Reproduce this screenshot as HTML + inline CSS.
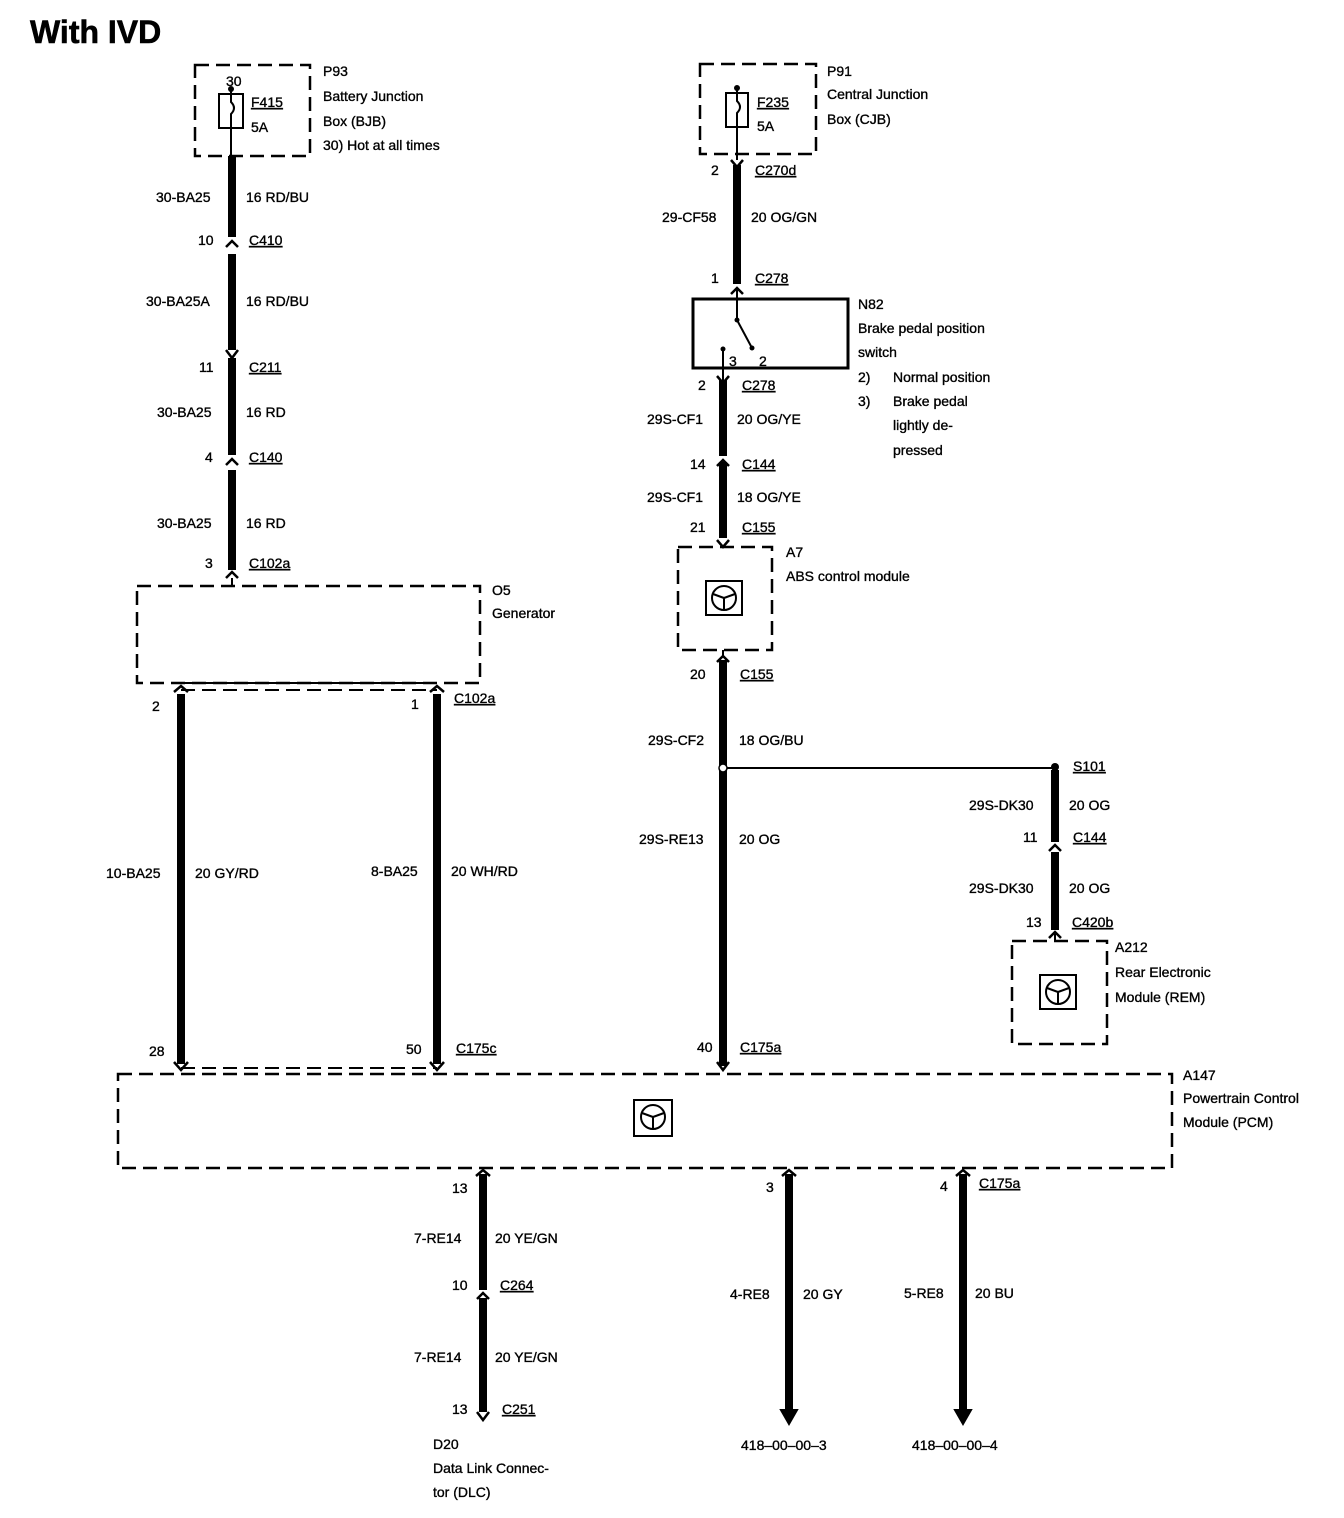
<!DOCTYPE html>
<html><head><meta charset="utf-8"><style>
html,body{margin:0;padding:0;background:#fff;}
svg{display:block;}
text{font-family:"Liberation Sans",sans-serif;font-size:14px;fill:#000;stroke:#000;stroke-width:0.35;}
.u{text-decoration:underline;}
.w{stroke:#000;stroke-width:8;fill:none;}
.t{stroke:#000;stroke-width:2;fill:none;}
.d{stroke:#000;stroke-width:2.5;fill:none;stroke-dasharray:14 7;}
.c{stroke:#000;stroke-width:2.5;fill:none;}
</style></head><body>
<svg width="1344" height="1518" viewBox="0 0 1344 1518" xmlns="http://www.w3.org/2000/svg">
<text x="30" y="43" style="font-size:32px;font-weight:bold;stroke-width:0.6">With IVD</text>

<!-- P93 -->
<rect x="195" y="65" width="115" height="91" class="d"/>
<rect x="219" y="94" width="24" height="34" class="t"/>
<path d="M231 88 V102 q6 6 0 12 V128" class="t"/>
<circle cx="231" cy="89" r="3"/>
<line x1="231" y1="128" x2="231" y2="156" class="t"/>
<text x="226" y="86">30</text>
<text x="251" y="107" class="u">F415</text>
<text x="251" y="132">5A</text>
<text x="323" y="76">P93</text>
<text x="323" y="101">Battery Junction</text>
<text x="323" y="126">Box (BJB)</text>
<text x="323" y="150">30)  Hot at all times</text>

<!-- left main wire -->
<line x1="232" y1="156" x2="232" y2="237" class="w"/>
<path d="M226 247 L232 241 L238 247" class="c"/>
<line x1="232" y1="254" x2="232" y2="350" class="w"/>
<path d="M226 350 L232 358 L238 350" class="c"/>
<line x1="232" y1="358" x2="232" y2="455" class="w"/>
<path d="M226 465 L232 459 L238 465" class="c"/>
<line x1="232" y1="470" x2="232" y2="570" class="w"/>
<path d="M226 578 L232 572 L238 578" class="c"/>
<line x1="232" y1="578" x2="232" y2="585" class="t"/>
<text x="156" y="202">30-BA25</text><text x="246" y="202">16 RD/BU</text>
<text x="198" y="245">10</text><text x="249" y="245" class="u">C410</text>
<text x="146" y="306">30-BA25A</text><text x="246" y="306">16 RD/BU</text>
<text x="199" y="372">11</text><text x="249" y="372" class="u">C211</text>
<text x="157" y="417">30-BA25</text><text x="246" y="417">16 RD</text>
<text x="205" y="462">4</text><text x="249" y="462" class="u">C140</text>
<text x="157" y="528">30-BA25</text><text x="246" y="528">16 RD</text>
<text x="205" y="568">3</text><text x="249" y="568" class="u">C102a</text>

<!-- Generator -->
<rect x="137" y="586" width="343" height="97" class="d"/>
<text x="492" y="595">O5</text>
<text x="492" y="618">Generator</text>
<line x1="181" y1="683" x2="437" y2="683" class="d" style="stroke-width:2"/>
<line x1="181" y1="690" x2="437" y2="690" class="d" style="stroke-width:2"/>
<path d="M174 692 L181 686 L188 692" class="c"/>
<path d="M430 692 L437 686 L444 692" class="c"/>
<line x1="181" y1="694" x2="181" y2="1064" class="w"/>
<line x1="437" y1="694" x2="437" y2="1064" class="w"/>
<path d="M174 1062 L181 1070 L188 1062" class="c"/>
<path d="M430 1062 L437 1070 L444 1062" class="c"/>
<line x1="181" y1="1068" x2="437" y2="1068" class="d" style="stroke-width:2"/>
<text x="152" y="711">2</text>
<text x="411" y="709">1</text><text x="454" y="703" class="u">C102a</text>
<text x="106" y="878">10-BA25</text><text x="195" y="878">20 GY/RD</text>
<text x="371" y="876">8-BA25</text><text x="451" y="876">20 WH/RD</text>
<text x="149" y="1056">28</text>
<text x="406" y="1054">50</text><text x="456" y="1053" class="u">C175c</text>

<!-- P91 -->
<rect x="700" y="64" width="116" height="90" class="d"/>
<rect x="726" y="93" width="22" height="34" class="t"/>
<path d="M737 88 V101 q6 6 0 12 V127" class="t"/>
<circle cx="737" cy="88" r="3"/>
<line x1="737" y1="127" x2="737" y2="160" class="t"/>
<text x="757" y="107" class="u">F235</text>
<text x="757" y="131">5A</text>
<text x="827" y="76">P91</text>
<text x="827" y="99">Central Junction</text>
<text x="827" y="124">Box (CJB)</text>
<path d="M731 160 L737 167 L743 160" class="c"/>
<line x1="737" y1="165" x2="737" y2="284" class="w"/>
<path d="M731 294 L737 288 L743 294" class="c"/>
<line x1="737" y1="290" x2="737" y2="320" class="t"/>
<text x="711" y="175">2</text><text x="755" y="175" class="u">C270d</text>
<text x="662" y="222">29-CF58</text><text x="751" y="222">20 OG/GN</text>
<text x="711" y="283">1</text><text x="755" y="283" class="u">C278</text>

<!-- N82 -->
<rect x="693" y="299" width="155" height="69" style="stroke:#000;stroke-width:3;fill:none"/>
<circle cx="737" cy="320" r="2.5"/>
<line x1="737" y1="320" x2="752" y2="348" class="t"/>
<circle cx="752" cy="348" r="2.5"/>
<circle cx="723" cy="349" r="2.5"/>
<line x1="723" y1="349" x2="723" y2="380" class="t"/>
<text x="729" y="366">3</text><text x="759" y="366">2</text>
<text x="858" y="309">N82</text>
<text x="858" y="333">Brake pedal position</text>
<text x="858" y="357">switch</text>
<text x="858" y="382">2)</text><text x="893" y="382">Normal position</text>
<text x="858" y="406">3)</text><text x="893" y="406">Brake pedal</text>
<text x="893" y="430">lightly de-</text>
<text x="893" y="455">pressed</text>
<path d="M717 376 L723 383 L729 376" class="c"/>
<line x1="723" y1="380" x2="723" y2="456" class="w"/>
<path d="M717 466 L723 460 L729 466" class="c"/>
<line x1="723" y1="462" x2="723" y2="538" class="w"/>
<path d="M717 540 L723 547 L729 540" class="c"/>
<text x="698" y="390">2</text><text x="742" y="390" class="u">C278</text>
<text x="647" y="424">29S-CF1</text><text x="737" y="424">20 OG/YE</text>
<text x="690" y="469">14</text><text x="742" y="469" class="u">C144</text>
<text x="647" y="502">29S-CF1</text><text x="737" y="502">18 OG/YE</text>
<text x="690" y="532">21</text><text x="742" y="532" class="u">C155</text>

<!-- A7 -->
<rect x="678" y="547" width="94" height="103" class="d"/>
<rect x="706" y="581" width="36" height="34" class="t"/>
<circle cx="724" cy="598" r="12" class="t"/>
<path d="M713 594 L724 598 L735 594 M724 598 V610" class="t"/>
<text x="786" y="557">A7</text>
<text x="786" y="581">ABS control module</text>
<path d="M717 662 L723 656 L729 662" class="c"/>
<line x1="723" y1="650" x2="723" y2="656" class="t"/>
<line x1="723" y1="660" x2="723" y2="1066" class="w"/>
<path d="M717 1062 L723 1070 L729 1062" class="c"/>
<text x="690" y="679">20</text><text x="740" y="679" class="u">C155</text>
<text x="648" y="745">29S-CF2</text><text x="739" y="745">18 OG/BU</text>
<line x1="723" y1="768" x2="1055" y2="768" class="t"/>
<circle cx="723" cy="768" r="4" fill="#fff" stroke="#000" stroke-width="1.5"/>
<circle cx="1055" cy="767" r="4"/>
<text x="639" y="844">29S-RE13</text><text x="739" y="844">20 OG</text>
<text x="697" y="1052">40</text><text x="740" y="1052" class="u">C175a</text>

<!-- S101 branch -->
<line x1="1055" y1="770" x2="1055" y2="842" class="w"/>
<path d="M1049 851 L1055 845 L1061 851" class="c"/>
<line x1="1055" y1="852" x2="1055" y2="930" class="w"/>
<path d="M1049 938 L1055 932 L1061 938" class="c"/>
<line x1="1055" y1="934" x2="1055" y2="941" class="t"/>
<text x="1073" y="771" class="u">S101</text>
<text x="969" y="810">29S-DK30</text><text x="1069" y="810">20 OG</text>
<text x="1023" y="842">11</text><text x="1073" y="842" class="u">C144</text>
<text x="969" y="893">29S-DK30</text><text x="1069" y="893">20 OG</text>
<text x="1026" y="927">13</text><text x="1072" y="927" class="u">C420b</text>
<rect x="1012" y="941" width="95" height="103" class="d"/>
<rect x="1040" y="975" width="36" height="34" class="t"/>
<circle cx="1058" cy="992" r="12" class="t"/>
<path d="M1047 988 L1058 992 L1069 988 M1058 992 V1004" class="t"/>
<text x="1115" y="952">A212</text>
<text x="1115" y="977">Rear Electronic</text>
<text x="1115" y="1002">Module (REM)</text>

<!-- PCM -->
<rect x="118" y="1074" width="1054" height="94" class="d"/>
<rect x="634" y="1100" width="38" height="36" class="t"/>
<circle cx="653" cy="1117" r="12" class="t"/>
<path d="M642 1113 L653 1117 L664 1113 M653 1117 V1129" class="t"/>
<text x="1183" y="1080">A147</text>
<text x="1183" y="1103">Powertrain Control</text>
<text x="1183" y="1127">Module (PCM)</text>

<!-- bottom wires -->
<path d="M476 1176 L483 1170 L490 1176" class="c"/>
<path d="M782 1176 L789 1170 L796 1176" class="c"/>
<path d="M956 1176 L963 1170 L970 1176" class="c"/>
<line x1="483" y1="1174" x2="483" y2="1290" class="w"/>
<path d="M477 1299 L483 1293 L489 1299" class="c"/>
<line x1="483" y1="1298" x2="483" y2="1412" class="w"/>
<path d="M477 1412 L483 1420 L489 1412" class="c"/>
<line x1="789" y1="1174" x2="789" y2="1412" class="w"/>
<path d="M781 1410 L789 1424 L797 1410 Z" fill="#000" stroke="#000" stroke-width="2"/>
<line x1="963" y1="1174" x2="963" y2="1412" class="w"/>
<path d="M955 1410 L963 1424 L971 1410 Z" fill="#000" stroke="#000" stroke-width="2"/>
<text x="452" y="1193">13</text>
<text x="766" y="1192">3</text>
<text x="940" y="1191">4</text><text x="979" y="1188" class="u">C175a</text>
<text x="414" y="1243">7-RE14</text><text x="495" y="1243">20 YE/GN</text>
<text x="452" y="1290">10</text><text x="500" y="1290" class="u">C264</text>
<text x="730" y="1299">4-RE8</text><text x="803" y="1299">20 GY</text>
<text x="904" y="1298">5-RE8</text><text x="975" y="1298">20 BU</text>
<text x="414" y="1362">7-RE14</text><text x="495" y="1362">20 YE/GN</text>
<text x="452" y="1414">13</text><text x="502" y="1414" class="u">C251</text>
<text x="433" y="1449">D20</text>
<text x="433" y="1473">Data Link Connec-</text>
<text x="433" y="1497">tor (DLC)</text>
<text x="741" y="1450">418–00–00–3</text>
<text x="912" y="1450">418–00–00–4</text>
</svg>
</body></html>
